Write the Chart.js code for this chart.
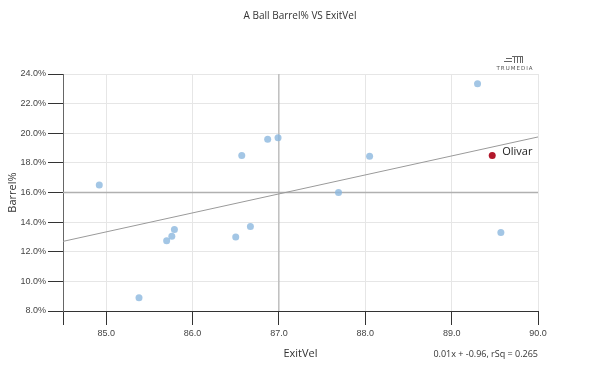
<!DOCTYPE html>
<html>
<head>
<meta charset="utf-8">
<script src="https://cdn.jsdelivr.net/npm/chart.js@4"></script>
<style>
  html, body { margin: 0; padding: 0; background: #fff; }
  #wrap { width: 600px; height: 375px; position: relative; }
</style>
</head>
<body>
<div id="wrap"><canvas id="myChart1" width="600" height="375"></canvas></div>
<script>
// players (ExitVel, Barrel%)
const exitVel = [84.92, 85.38, 85.70, 85.76, 85.79, 86.50, 86.57, 86.67, 86.87, 86.99, 87.69, 88.05, 89.30, 89.57];
const barrelPct = [16.5, 8.9, 12.75, 13.05, 13.5, 13.0, 18.5, 13.7, 19.6, 19.7, 16.0, 18.45, 23.35, 13.3];

// highlighted player
const hiName = 'Olivar';
const hiX = [89.47];
const hiY = [18.5];

// trend line ends and average lines
const trendX = [84.5, 90.0];
const trendY = [12.7, 19.75];
const avgX = 87.0;
const avgY = 16.0;

const xTickVals = [84.5, 85, 86, 87, 88, 89, 90];
const yTickVals = [8, 10, 12, 14, 16, 18, 20, 22, 24];

const chartTitle = 'A Ball Barrel% VS ExitVel';
const xTitle = 'ExitVel';
const yTitle = 'Barrel%';
const fitText = '0.01x + -0.96, rSq = 0.265';

const toPts = (xs, ys) => xs.map((x, i) => ({ x: x, y: ys[i] }));

// extra texts + logo
const textPlugin = {
    id: 'texts',
    afterDraw(chart) {
        const c = chart.ctx;
        const a = chart.chartArea;
        c.save();
        c.fillStyle = '#333';
        c.textBaseline = 'middle';
        c.textAlign = 'center';
        c.font = '10px "Open Sans"';
        c.fillText(chartTitle, 300, 16);
        c.font = '11px "Open Sans"';
        c.fillText(xTitle, (a.left + a.right) / 2, 354);
        c.textAlign = 'right';
        c.font = '9px "Open Sans"';
        c.fillText(fitText, a.right, 354);
        c.save();
        c.translate(13, (a.top + a.bottom) / 2);
        c.rotate(-Math.PI / 2);
        c.textAlign = 'center';
        c.font = '11px "Open Sans"';
        c.fillText(yTitle, 0, 0);
        c.restore();

        // label for highlighted point
        const px = chart.scales.x.getPixelForValue(hiX[0]);
        const py = chart.scales.y.getPixelForValue(hiY[0]);
        c.textAlign = 'left';
        c.font = '11px "Open Sans"';
        c.fillStyle = '#222';
        c.fillText(hiName, px + 10, py - 4);

        // TRUMEDIA logo
        c.strokeStyle = '#666';
        c.lineWidth = 1;
        c.beginPath();
        c.moveTo(506, 58.5); c.lineTo(512, 58.5);
        c.moveTo(504, 61.5); c.lineTo(512, 61.5);
        c.moveTo(512, 56.5); c.lineTo(523, 56.5);
        c.moveTo(514.5, 56.5); c.lineTo(514.5, 63);
        c.moveTo(517.5, 56.5); c.lineTo(517.5, 63);
        c.moveTo(520.5, 56.5); c.lineTo(520.5, 63);
        c.moveTo(522.5, 56.5); c.lineTo(522.5, 63);
        c.stroke();
        c.fillStyle = '#555';
        c.textAlign = 'center';
        c.font = '5.5px "DejaVu Sans"';
        c.letterSpacing = '1px';
        c.fillText('TRUMEDIA', 515, 69);
        c.restore();
    }
};

const canvas = document.getElementById('myChart1');
const ctx1 = canvas.getContext('2d');

new Chart(ctx1, {
    type: 'scatter',
    data: {
        datasets: [
            {
                label: hiName,
                data: toPts(hiX, hiY),
                backgroundColor: '#b2182b',
                borderWidth: 0,
                pointRadius: 3.5,
                order: 0
            },
            {
                label: 'players',
                data: toPts(exitVel, barrelPct),
                backgroundColor: 'rgba(140,184,222,0.8)',
                borderWidth: 0,
                pointRadius: 3.5,
                order: 1
            },
            {
                type: 'line',
                label: 'trend',
                data: toPts(trendX, trendY),
                borderColor: '#9a9a9a',
                borderWidth: 1,
                pointRadius: 0,
                fill: false,
                order: 2
            },
            {
                type: 'line',
                label: 'avgX',
                data: [{ x: avgX, y: yTickVals[0] }, { x: avgX, y: yTickVals[yTickVals.length - 1] }],
                borderColor: '#a8a8a8',
                borderWidth: 1,
                pointRadius: 0,
                fill: false,
                order: 3
            },
            {
                type: 'line',
                label: 'avgY',
                data: [{ x: xTickVals[0], y: avgY }, { x: xTickVals[xTickVals.length - 1], y: avgY }],
                borderColor: '#b0b0b0',
                borderWidth: 1.5,
                pointRadius: 0,
                fill: false,
                order: 4
            }
        ]
    },
    options: {
        responsive: false,
        animation: false,
        layout: { padding: { left: 0, right: 62, top: 74, bottom: 0 } },
        plugins: {
            legend: { display: false },
            tooltip: { enabled: false }
        },
        scales: {
            x: {
                type: 'linear',
                min: xTickVals[0],
                max: xTickVals[xTickVals.length - 1],
                afterBuildTicks: s => { s.ticks = xTickVals.map(v => ({ value: v })); },
                afterFit: s => { s.height = 64; },
                grid: { color: '#e6e6e6', tickColor: '#333', tickLength: 14 },
                border: { color: '#333' },
                ticks: {
                    color: '#444',
                    padding: 3,
                    maxRotation: 0,
                    font: { family: 'Liberation Sans', size: 9 },
                    callback: v => (v === xTickVals[0] ? '' : v.toFixed(1))
                }
            },
            y: {
                type: 'linear',
                min: yTickVals[0],
                max: yTickVals[yTickVals.length - 1],
                afterBuildTicks: s => { s.ticks = yTickVals.map(v => ({ value: v })); },
                afterFit: s => { s.width = 63; },
                grid: { color: '#e6e6e6', tickColor: '#333', tickLength: 15 },
                border: { color: '#666' },
                ticks: {
                    color: '#444',
                    padding: 2,
                    font: { family: 'Liberation Sans', size: 9 },
                    callback: v => v.toFixed(1) + '%'
                }
            }
        }
    },
    plugins: [textPlugin]
});
</script>
</body>
</html>
